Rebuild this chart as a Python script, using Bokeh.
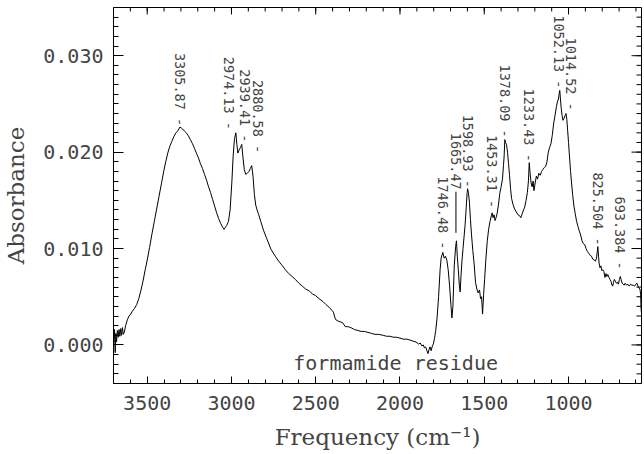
import math
from bokeh.plotting import figure
from bokeh.models import Range1d, FixedTicker, ColumnDataSource
from bokeh.core.properties import value
from bokeh.embed import file_html
from bokeh.resources import INLINE

# ---------------- data ----------------
freq = [3698, 3694, 3690, 3686, 3682, 3677, 3672, 3667, 3662, 3657, 3652, 3647, 3642, 3636,
        3628, 3618, 3608, 3598, 3588, 3575, 3562, 3550, 3538, 3525, 3512, 3500, 3486, 3472,
        3458, 3444, 3430, 3416, 3402, 3390, 3378, 3366, 3354, 3342, 3330, 3318, 3306, 3298,
        3290, 3280, 3268, 3256, 3244, 3232, 3220, 3208, 3196, 3184, 3172, 3160, 3148, 3136,
        3124, 3112, 3100, 3088, 3076, 3064, 3052, 3044, 3036, 3028, 3018, 3008, 2998, 2990,
        2982, 2974, 2968, 2962, 2955, 2946, 2939, 2932, 2924, 2915, 2906, 2896, 2888, 2880,
        2872, 2864, 2856, 2848, 2838, 2826, 2810, 2790, 2765, 2740, 2720, 2702, 2680, 2660,
        2640, 2621, 2600, 2580, 2560, 2539, 2520, 2500, 2480, 2457, 2440, 2420, 2405, 2395,
        2388, 2380, 2370, 2355, 2340, 2325, 2310, 2292, 2270, 2250, 2230, 2210, 2190, 2170,
        2150, 2128, 2100, 2080, 2060, 2040, 2020, 2000, 1980, 1960, 1940, 1923, 1905, 1890,
        1880, 1870, 1862, 1855, 1848, 1840, 1834, 1828, 1822, 1815, 1808, 1802, 1795, 1788,
        1780, 1771, 1762, 1756, 1746, 1738, 1730, 1722, 1714, 1706, 1698, 1692, 1686, 1678,
        1670, 1665, 1660, 1654, 1648, 1643, 1638, 1632, 1626, 1620, 1614, 1608, 1602, 1599,
        1594, 1588, 1582, 1576, 1568, 1560, 1552, 1544, 1536, 1528, 1522, 1516, 1510, 1504,
        1498, 1490, 1482, 1474, 1466, 1458, 1453, 1448, 1442, 1436, 1430, 1424, 1416, 1408,
        1400, 1392, 1386, 1382, 1378, 1374, 1368, 1362, 1356, 1350, 1344, 1338, 1330, 1320,
        1310, 1300, 1290, 1283, 1275, 1267, 1260, 1252, 1244, 1238, 1233, 1228, 1222, 1216,
        1210, 1205, 1198, 1191, 1184, 1176, 1168, 1160, 1152, 1144, 1136, 1128, 1120, 1112,
        1104, 1096, 1088, 1080, 1072, 1066, 1060, 1056, 1052, 1048, 1043, 1038, 1033, 1027,
        1020, 1015, 1010, 1005, 1000, 994, 988, 982, 975, 968, 960, 952, 944, 936,
        928, 920, 912, 904, 896, 888, 880, 872, 864, 856, 848, 840, 834, 830,
        826, 822, 818, 813, 808, 802, 797, 790, 784, 778, 772, 767, 760, 754,
        748, 742, 738, 733, 728, 722, 716, 710, 704, 698, 693, 688, 682, 676,
        670, 664, 656, 648, 640, 632, 624, 616, 608, 600, 594, 588, 582, 576,
        572, 570, 568]
absorbance = [0.0002, 0.0016, -0.0008, 0.0012, 0.0003, 0.0015, 0.0008, 0.0016, 0.0009, 0.0017,
              0.0010, 0.0018, 0.0011, 0.0013, 0.0020, 0.0026, 0.0030, 0.0032, 0.0035, 0.0038,
              0.0042, 0.0048, 0.0056, 0.0066, 0.0078, 0.0088, 0.0101, 0.0115, 0.0128, 0.0141,
              0.0154, 0.0167, 0.0180, 0.0190, 0.0199, 0.0206, 0.0211, 0.0216, 0.0220, 0.0222,
              0.0226, 0.0225, 0.0224, 0.0222, 0.0220, 0.0217, 0.0213, 0.0209, 0.0204, 0.0199,
              0.0194, 0.0188, 0.0183, 0.0177, 0.0171, 0.0164, 0.0158, 0.0151, 0.0144, 0.0137,
              0.0131, 0.0126, 0.0122, 0.0120, 0.0122, 0.0124, 0.0128, 0.0140, 0.0168, 0.0196,
              0.0214, 0.0220, 0.0208, 0.0199, 0.0202, 0.0205, 0.0208, 0.0195, 0.0182, 0.0177,
              0.0178, 0.0180, 0.0183, 0.0186, 0.0175, 0.0156, 0.0145, 0.0140, 0.0135, 0.0128,
              0.0119, 0.0110, 0.0099, 0.0092, 0.0087, 0.0083, 0.0078, 0.0074, 0.0071, 0.0068,
              0.0064, 0.0061, 0.0058, 0.0056, 0.0053, 0.0051, 0.0048, 0.0045, 0.0042, 0.0039,
              0.0036, 0.0034, 0.0029, 0.0026, 0.0025, 0.0024, 0.0023, 0.0019, 0.0019, 0.0018,
              0.0016, 0.0015, 0.0014, 0.0014, 0.0013, 0.0012, 0.0011, 0.0011, 0.0010, 0.0009,
              0.0009, 0.0008, 0.0008, 0.0007, 0.0006, 0.0006, 0.0005, 0.0004, 0.0003, 0.0001,
              0.0002, -0.0001, 0.0000, -0.0003, -0.0002, -0.0006, -0.0009, -0.0005, -0.0002, -0.0006,
              -0.0001, 0.0001, 0.0007, 0.0015, 0.0028, 0.0050, 0.0078, 0.0090, 0.0096, 0.0090,
              0.0092, 0.0088, 0.0078, 0.0062, 0.0042, 0.0028, 0.0040, 0.0082, 0.0102, 0.0108,
              0.0092, 0.0078, 0.0062, 0.0055, 0.0072, 0.0088, 0.0100, 0.0112, 0.0124, 0.0140,
              0.0157, 0.0162, 0.0158, 0.0148, 0.0130, 0.0115, 0.0098, 0.0084, 0.0065, 0.0058,
              0.0054, 0.0057, 0.0048, 0.0050, 0.0032, 0.0052, 0.0068, 0.0090, 0.0108, 0.0120,
              0.0128, 0.0134, 0.0137, 0.0132, 0.0135, 0.0129, 0.0132, 0.0136, 0.0145, 0.0157,
              0.0164, 0.0172, 0.0186, 0.0196, 0.0213, 0.0210, 0.0208, 0.0200, 0.0188, 0.0176,
              0.0162, 0.0152, 0.0146, 0.0141, 0.0138, 0.0135, 0.0134, 0.0132, 0.0136, 0.0140,
              0.0143, 0.0150, 0.0158, 0.0170, 0.0189, 0.0178, 0.0168, 0.0164, 0.0170, 0.0160,
              0.0168, 0.0175, 0.0172, 0.0178, 0.0176, 0.0180, 0.0182, 0.0184, 0.0185, 0.0190,
              0.0200, 0.0205, 0.0209, 0.0218, 0.0230, 0.0238, 0.0247, 0.0252, 0.0255, 0.0260,
              0.0264, 0.0255, 0.0245, 0.0238, 0.0233, 0.0235, 0.0238, 0.0240, 0.0234, 0.0222,
              0.0210, 0.0195, 0.0180, 0.0168, 0.0155, 0.0144, 0.0136, 0.0128, 0.0123, 0.0118,
              0.0114, 0.0108, 0.0105, 0.0104, 0.0100, 0.0097, 0.0095, 0.0093, 0.0092, 0.0089,
              0.0088, 0.0087, 0.0090, 0.0096, 0.0102, 0.0092, 0.0084, 0.0080, 0.0082, 0.0077,
              0.0078, 0.0076, 0.0070, 0.0074, 0.0071, 0.0073, 0.0070, 0.0068, 0.0066, 0.0062,
              0.0061, 0.0065, 0.0068, 0.0066, 0.0064, 0.0065, 0.0063, 0.0068, 0.0071, 0.0068,
              0.0064, 0.0063, 0.0062, 0.0064, 0.0062, 0.0063, 0.0061, 0.0063, 0.0062, 0.0062,
              0.0061, 0.0063, 0.0064, 0.0061, 0.0059, 0.0058, 0.0052, 0.0040, 0.0034]

peak_text = ["3305.87", "2974.13", "2939.41", "2880.58", "1746.48", "1665.47", "1598.93",
             "1453.31", "1378.09", "1233.43", "1052.13", "1014.52", "825.504", "693.384"]
peak_freq = [3305.87, 2974.13, 2939.41, 2880.58, 1746.48, 1665.47, 1598.93,
             1453.31, 1378.09, 1233.43, 1052.13, 1014.52, 825.504, 693.384]
peak_abs = [0.0226, 0.0220, 0.0208, 0.0186, 0.0096, 0.0108, 0.0162,
            0.0137, 0.0213, 0.0189, 0.0264, 0.0240, 0.0102, 0.0071]
# where each label is drawn (centre frequency, absorbance at the label's lower end)
label_x = [3305.87, 3013.0, 2918.0, 2844.0, 1746.48, 1668.0, 1598.93,
           1453.31, 1378.09, 1233.43, 1058.0, 987.0, 825.504, 693.384]
label_end = [0.0227, 0.0223, 0.0210, 0.0199, 0.0099, 0.0161, 0.0163,
             0.0142, 0.0215, 0.0190, 0.0266, 0.0243, 0.0103, 0.0078]

x_ticks = [3500, 3000, 2500, 2000, 1500, 1000]
x_tick_labels = ["3500", "3000", "2500", "2000", "1500", "1000"]
y_ticks = [0.0, 0.01, 0.02, 0.03]
y_tick_labels = ["0.000", "0.010", "0.020", "0.030"]

note_text = "formamide residue"
note_x, note_y = 2026, -0.0019

X0, X1 = 3700, 567
Y0, Y1 = -0.004, 0.035

# ---------------- figure ----------------
MONO = "DejaVu Sans Mono"
SERIF = "DejaVu Serif"
INK = "#444444"

W, H = 642, 452
BL, BR, BT, BB = 112, 1, 7, 67
FW, FH = W - BL - BR, H - BT - BB
xpx = (X0 - X1) / FW      # frequency units per pixel
ypx = (Y1 - Y0) / FH      # absorbance units per pixel

p = figure(width=W, height=H, x_range=Range1d(X0, X1), y_range=Range1d(Y0, Y1),
           output_backend="svg", toolbar_location=None,
           min_border_left=BL, min_border_right=BR, min_border_top=BT, min_border_bottom=BB,
           x_axis_label="Frequency (cm\u207b\u00b9)", y_axis_label="Absorbance")
p.grid.visible = False
p.outline_line_color = "black"
p.background_fill_color = "white"
p.border_fill_color = "white"

x_minor = list(range(600, 3701, 100))
y_minor = [i / 1000 for i in range(-4, 36)]

xa = p.xaxis[0]
xa.ticker = FixedTicker(ticks=x_ticks, minor_ticks=x_minor)
xa.major_label_overrides = {t: s for t, s in zip(x_ticks, x_tick_labels)}
ya = p.yaxis[0]
ya.ticker = FixedTicker(ticks=y_ticks, minor_ticks=y_minor)
ya.major_label_overrides = {t: s for t, s in zip(y_ticks, y_tick_labels)}

XMAJ, XMIN, YMAJ, YMIN = 7, 4, 10, 5
for ax, mj, mn in ((xa, XMAJ, XMIN), (ya, YMAJ, YMIN)):
    ax.major_tick_in = mj
    ax.major_tick_out = 0
    ax.minor_tick_in = mn
    ax.minor_tick_out = 0
    ax.axis_line_color = "black"
    ax.major_tick_line_color = "black"
    ax.minor_tick_line_color = "black"
    ax.major_label_text_font = MONO
    ax.major_label_text_font_size = "20px"
    ax.major_label_text_color = INK
    ax.axis_label_text_font = SERIF
    ax.axis_label_text_font_style = "normal"
    ax.axis_label_text_color = INK
    ax.axis_label_text_font_size = "23px"
xa.major_label_standoff = 12
xa.axis_label_standoff = 11
ya.major_label_standoff = 10
ya.axis_label_standoff = 11

# ticks on the top and right sides of the box
top_maj = dict(x0=x_ticks, x1=x_ticks, y0=[Y1] * len(x_ticks), y1=[Y1 - XMAJ * ypx] * len(x_ticks))
top_min = dict(x0=x_minor, x1=x_minor, y0=[Y1] * len(x_minor), y1=[Y1 - XMIN * ypx] * len(x_minor))
rgt_maj = dict(y0=y_ticks, y1=y_ticks, x0=[X1] * len(y_ticks), x1=[X1 + YMAJ * xpx] * len(y_ticks))
rgt_min = dict(y0=y_minor, y1=y_minor, x0=[X1] * len(y_minor), x1=[X1 + YMIN * xpx] * len(y_minor))
for d in (top_maj, top_min, rgt_maj, rgt_min):
    p.segment(source=ColumnDataSource(d), x0="x0", y0="y0", x1="x1", y1="y1",
              line_color="black", line_width=1)

# spectrum
p.line(freq, absorbance, line_color="black", line_width=1)

# peak labels
n = len(peak_text)
leader = [i for i in range(n) if label_end[i] - peak_abs[i] > 0.002]
plain = [i for i in range(n) if i not in leader]
src_plain = ColumnDataSource(dict(x=[label_x[i] for i in plain],
                                  y=[label_end[i] for i in plain],
                                  t=[peak_text[i] + " -" for i in plain]))
p.text(x="x", y="y", text="t", source=src_plain, angle=-math.pi / 2,
       text_align="right", text_baseline="middle",
       text_font=value(MONO), text_font_size="13.5px", text_color=INK)
src_lead = ColumnDataSource(dict(x=[label_x[i] for i in leader],
                                 y=[label_end[i] for i in leader],
                                 ys=[label_end[i] - 2 * ypx for i in leader],
                                 ye=[peak_abs[i] + 8 * ypx for i in leader],
                                 t=[peak_text[i] for i in leader]))
p.text(x="x", y="y", text="t", source=src_lead, angle=-math.pi / 2,
       text_align="right", text_baseline="middle",
       text_font=value(MONO), text_font_size="13.5px", text_color=INK)
p.segment(x0="x", y0="ys", x1="x", y1="ye", source=src_lead, line_color="black", line_width=1)

# annotation
p.text(x=[note_x], y=[note_y], text=[note_text], text_align="center", text_baseline="middle",
       text_font=value(MONO), text_font_size="20px", text_color=INK)

open("out.html", "w").write(file_html(p, INLINE))
